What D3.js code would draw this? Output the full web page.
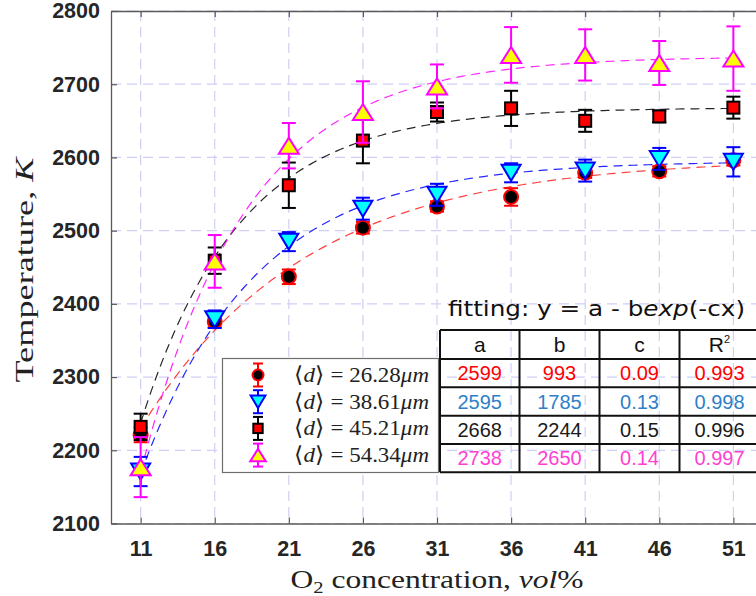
<!DOCTYPE html>
<html>
<head>
<meta charset="utf-8">
<script src="https://cdn.jsdelivr.net/npm/d3@7/dist/d3.min.js"></script>
<style>
  html, body { margin: 0; padding: 0; background: #fff; }
  svg { display: block; }
</style>
</head>
<body>
<svg id="chart" width="756" height="596"></svg>
<script>
// O2 concentration (vol%) at which each flame temperature was measured
const concentrations = [11, 16, 21, 26, 31, 36, 41, 46, 51];
const xTickValues = [11, 16, 21, 26, 31, 36, 41, 46, 51];
const yTickValues = [2100, 2200, 2300, 2400, 2500, 2600, 2700, 2800];

// mean particle diameters (µm), one series per diameter
const diameters = ["26.28", "38.61", "45.21", "54.34"];

// measured temperatures (K) and error-bar half widths (K)
const temp26 = [2221, 2376, 2437, 2504, 2533, 2546, 2579, 2581, 2596];
const err26  = [10, 8, 10, 8, 7, 12, 7, 7, 7];
const temp38 = [2171, 2379, 2485, 2530, 2549, 2579, 2582, 2598, 2594];
const err38  = [20, 12, 13, 15, 15, 13, 15, 15, 20];
const temp45 = [2232, 2459, 2562, 2623, 2662, 2667, 2650, 2656, 2668];
const err45  = [18, 18, 31, 31, 13, 24, 15, 8, 15];
const temp54 = [2177, 2458, 2616, 2662, 2697, 2740, 2740, 2729, 2735];
const err54  = [41, 36, 31, 42, 30, 38, 35, 30, 44];

// fitted parameters of y = a - b*exp(-c*x)
const fitA = [2599, 2595, 2668, 2738];
const fitB = [993, 1785, 2244, 2650];
const fitC = ["0.09", "0.13", "0.15", "0.14"];
const fitR2 = ["0.993", "0.998", "0.996", "0.997"];

const svg = d3.select("#chart");

const x = d3.scaleLinear().domain([9, 53]).range([111, 763]);
const y = d3.scaleLinear().domain([2100, 2800]).range([523.5, 11]);

const gridColor = "#d0d0f7";
const axisColor = "#5a5a5a";

// marker styles per series
const styles = [
  { line: "#ff2020", stroke: "#ff0000", fill: "#000000", shape: "circle" },
  { line: "#0000ff", stroke: "#0000ff", fill: "#00ffff", shape: "down" },
  { line: "#000000", stroke: "#000000", fill: "#ff0000", shape: "square" },
  { line: "#ff00ff", stroke: "#ff00ff", fill: "#ffff00", shape: "up" }
];
const temps = [temp26, temp38, temp45, temp54];
const errs = [err26, err38, err45, err54];

// ---- grid ----
const grid = svg.append("g").attr("class", "grid")
  .attr("stroke", gridColor).attr("stroke-width", 1.2).attr("stroke-dasharray", "10,6");
xTickValues.forEach(v => grid.append("line")
  .attr("x1", x(v)).attr("x2", x(v)).attr("y1", y(2800)).attr("y2", y(2100)));
yTickValues.forEach(v => grid.append("line")
  .attr("x1", x(9)).attr("x2", x(53)).attr("y1", y(v)).attr("y2", y(v)));

// ---- axes (ticks point inward, box around the plot) ----
const fontTick = "'Liberation Sans', Arial, Helvetica, sans-serif";

const gx = svg.append("g").attr("transform", `translate(0,${y(2100)})`)
  .call(d3.axisBottom(x).tickValues(xTickValues).tickSize(-6).tickPadding(17).tickSizeOuter(0));
const gy = svg.append("g").attr("transform", `translate(${x(9)},0)`)
  .call(d3.axisLeft(y).tickValues(yTickValues).tickSize(-6).tickPadding(11).tickSizeOuter(0).tickFormat(d3.format("d")));
const gt = svg.append("g").attr("transform", `translate(0,${y(2800)})`)
  .call(d3.axisTop(x).tickValues(xTickValues).tickSize(-6).tickSizeOuter(0).tickFormat(""));
const gr = svg.append("g").attr("transform", `translate(${x(53)},0)`)
  .call(d3.axisRight(y).tickValues(yTickValues).tickSize(-6).tickSizeOuter(0).tickFormat(""));

[gx, gy, gt, gr].forEach(g => {
  g.select(".domain").attr("stroke", axisColor).attr("stroke-width", 1.3);
  g.selectAll(".tick line").attr("stroke", axisColor).attr("stroke-width", 1.2);
  g.selectAll(".tick text")
    .attr("font-family", fontTick).attr("font-weight", "bold")
    .attr("font-size", 21.5).attr("fill", "#262626");
});

// ---- fitted curves ----
const curveXs = d3.range(11, 51.001, 0.25);
const lineGen = d3.line().x(d => x(d[0])).y(d => y(d[1]));
fitA.forEach((a, i) => {
  const b = fitB[i], c = +fitC[i];
  const pts = curveXs.map(v => [v, a - b * Math.exp(-c * v)]);
  svg.append("path").datum(pts)
    .attr("d", lineGen).attr("fill", "none")
    .attr("stroke", styles[i].line).attr("stroke-width", 1.2)
    .attr("stroke-dasharray", "9,6").attr("opacity", 0.85);
});

// ---- marker shapes ----
function drawMarker(g, shape, cx, cy, s, st) {
  if (shape === "circle") {
    g.append("circle").attr("cx", cx).attr("cy", cy).attr("r", 7 * s)
      .attr("fill", st.fill).attr("stroke", st.stroke).attr("stroke-width", 2);
  } else if (shape === "square") {
    const h = 6 * s;
    g.append("rect").attr("x", cx - h).attr("y", cy - h).attr("width", 2 * h).attr("height", 2 * h)
      .attr("fill", st.fill).attr("stroke", st.stroke).attr("stroke-width", 2);
  } else if (shape === "down") {
    const w = 9.5 * s, h = 8 * s;
    g.append("path").attr("d", `M${cx - w},${cy - h}L${cx + w},${cy - h}L${cx},${cy + h}Z`)
      .attr("fill", st.fill).attr("stroke", st.stroke).attr("stroke-width", 2).attr("stroke-linejoin", "miter");
  } else {
    const w = 10 * s, h = 8 * s;
    g.append("path").attr("d", `M${cx - w},${cy + h}L${cx + w},${cy + h}L${cx},${cy - h}Z`)
      .attr("fill", st.fill).attr("stroke", st.stroke).attr("stroke-width", 2).attr("stroke-linejoin", "miter");
  }
}
function drawErrorBar(g, cx, y1, y2, cap, color) {
  g.append("line").attr("x1", cx).attr("x2", cx).attr("y1", y1).attr("y2", y2)
    .attr("stroke", color).attr("stroke-width", 2);
  [y1, y2].forEach(yy => g.append("line")
    .attr("x1", cx - cap / 2).attr("x2", cx + cap / 2).attr("y1", yy).attr("y2", yy)
    .attr("stroke", color).attr("stroke-width", 2));
}

// ---- data points with error bars ----
temps.forEach((series, i) => {
  const g = svg.append("g");
  series.forEach((t, k) => {
    const cx = x(concentrations[k]);
    drawErrorBar(g, cx, y(t + errs[i][k]), y(t - errs[i][k]), 14, styles[i].stroke);
  });
  series.forEach((t, k) => {
    drawMarker(g, styles[i].shape, x(concentrations[k]), y(t), 1, styles[i]);
  });
});

// ---- legend ----
const lg = svg.append("g");
lg.append("rect").attr("x", 222.5).attr("y", 358.5).attr("width", 216).attr("height", 114)
  .attr("fill", "#fff").attr("stroke", "#6e6e6e").attr("stroke-width", 1.2);
const serif = "'Liberation Serif', 'Times New Roman', serif";
diameters.forEach((dstr, i) => {
  const cy = 375 + i * 26.7;
  drawErrorBar(lg, 258, cy - 11.5, cy + 11.5, 10, styles[i].stroke);
  drawMarker(lg, styles[i].shape, 258, cy, 0.78, styles[i]);
  const t = lg.append("text").attr("x", 294).attr("y", cy + 7)
    .attr("font-family", serif).attr("font-size", 21.5).attr("fill", "#222")
    .attr("textLength", 135).attr("lengthAdjust", "spacingAndGlyphs");
  t.append("tspan").text("\u27E8");
  t.append("tspan").attr("font-style", "italic").text("d");
  t.append("tspan").text("\u27E9 = " + dstr);
  t.append("tspan").attr("font-style", "italic").text("\u03BCm");
});

// ---- fit parameter table ----
const tg = svg.append("g");
const title = tg.append("text").attr("x", 448).attr("y", 316)
  .attr("font-family", "'DejaVu Sans', Verdana, sans-serif").attr("font-size", 21).attr("fill", "#111")
  .attr("textLength", 297).attr("lengthAdjust", "spacingAndGlyphs");
title.append("tspan").text("fitting: y = a - b");
title.append("tspan").attr("font-style", "italic").text("exp");
title.append("tspan").text("(-cx)");

const colX = [440, 519.5, 599.5, 679.5, 759.5];
const rowY = [330, 359, 387.3, 415.7, 444, 472.3];
const tblStroke = "#111";
colX.forEach(cx => tg.append("line").attr("x1", cx).attr("x2", cx).attr("y1", rowY[0]).attr("y2", rowY[5])
  .attr("stroke", tblStroke).attr("stroke-width", 2));
rowY.forEach(ry => tg.append("line").attr("x1", colX[0]).attr("x2", colX[4]).attr("y1", ry).attr("y2", ry)
  .attr("stroke", tblStroke).attr("stroke-width", 2));

const tableFont = "'Liberation Sans Narrow', 'Arial Narrow', 'Liberation Sans', sans-serif";
const headers = ["a", "b", "c", "R"];
headers.forEach((h, j) => {
  const t = tg.append("text").attr("x", (colX[j] + colX[j + 1]) / 2).attr("y", (rowY[0] + rowY[1]) / 2 + 7)
    .attr("text-anchor", "middle").attr("font-family", tableFont).attr("font-size", 21).attr("fill", "#111");
  t.append("tspan").text(h);
  if (h === "R") t.append("tspan").attr("font-size", 11).attr("dy", -9).text("2");
});
const rowColors = ["#ff0000", "#2f7fc8", "#1a1a1a", "#ff3fd0"];
diameters.forEach((_, i) => {
  const vals = [String(fitA[i]), String(fitB[i]), fitC[i], fitR2[i]];
  vals.forEach((v, j) => {
    tg.append("text").attr("x", (colX[j] + colX[j + 1]) / 2).attr("y", (rowY[i + 1] + rowY[i + 2]) / 2 + 7)
      .attr("text-anchor", "middle").attr("font-family", tableFont).attr("font-size", 20)
      .attr("fill", rowColors[i]).text(v);
  });
});

// ---- axis titles ----
const xl = svg.append("text").attr("x", 437).attr("y", 588).attr("text-anchor", "middle")
  .attr("font-family", serif).attr("font-size", 26).attr("fill", "#222")
  .attr("textLength", 293).attr("lengthAdjust", "spacingAndGlyphs");
xl.append("tspan").text("O");
xl.append("tspan").attr("font-size", 17).attr("dy", 5).text("2");
xl.append("tspan").attr("dy", -5).text(" concentration, ");
xl.append("tspan").attr("font-style", "italic").text("vol");
xl.append("tspan").text("%");

const yl = svg.append("text").attr("transform", "translate(33,270) rotate(-90)").attr("text-anchor", "middle")
  .attr("font-family", serif).attr("font-size", 26).attr("fill", "#222")
  .attr("textLength", 225).attr("lengthAdjust", "spacingAndGlyphs");
yl.append("tspan").text("Temperature, ");
yl.append("tspan").attr("font-style", "italic").text("K");
</script>
</body>
</html>
